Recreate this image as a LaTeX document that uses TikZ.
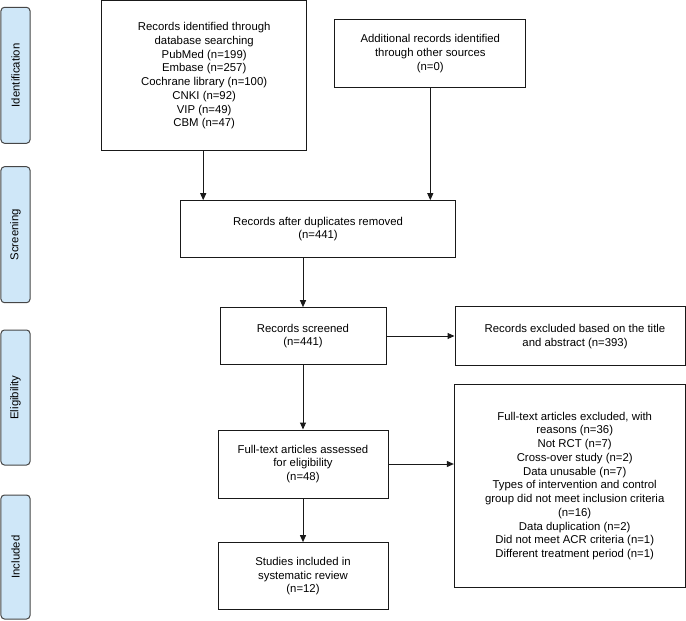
\documentclass[tikz,border=0pt]{standalone}
\usepackage{fontspec}
\setmainfont{Liberation Sans}
\usetikzlibrary{arrows.meta}
\definecolor{sidefill}{RGB}{207,231,248}
\definecolor{sidedraw}{RGB}{70,70,70}
\definecolor{linec}{RGB}{25,25,25}
\begin{document}
\begin{tikzpicture}[x=1bp,y=-1bp,
  every node/.style={font=\fontsize{11.4}{13.8}\selectfont},
  flowbox/.style={draw=linec, line width=1bp, align=center, inner sep=0pt},
  side/.style={draw=sidedraw, fill=sidefill, line width=1bp, rounded corners=3.5bp, rotate=90, inner sep=0pt, minimum height=29bp},
  flowarrow/.style={draw=linec, line width=1bp, -{Triangle[length=7bp,width=6bp]}}]
\useasboundingbox (0,0) rectangle (686,621);
% side labels
\node[side, minimum width=136bp] (sid) at (15.5,75.3) {Identification};
\node[side, minimum width=136bp] (ssc) at (15.5,234.7) {Screening};
\node[side, minimum width=135bp] (sel) at (15.5,397.5) {Eligibility};
\node[side, minimum width=124bp] (sin) at (15.5,557) {Included};
% boxes
\node[flowbox, minimum width=205bp, minimum height=150bp] (b1) at (204.2,75.8)
  {Records identified through\\database searching\\PubMed (n=199)\\Embase (n=257)\\Cochrane library (n=100)\\CNKI (n=92)\\VIP (n=49)\\CBM (n=47)};
\node[flowbox, minimum width=190.7bp, minimum height=68.2bp] (b2) at (430.3,53.4)
  {Additional records identified\\through other sources\\(n=0)};
\node[flowbox, minimum width=274.6bp, minimum height=56.6bp] (b3) at (318,229)
  {Records after duplicates removed\\(n=441)};
\node[flowbox, minimum width=166bp, minimum height=56.6bp] (b4) at (303,336)
  {Records screened\\(n=441)};
\node[flowbox, minimum width=230bp, minimum height=59bp] (b5) at (570,336.2)
  {\hspace{10bp}Records excluded based on the title\\\hspace{10bp}and abstract (n=393)};
\node[flowbox, minimum width=230.7bp, minimum height=203.4bp] (b7) at (569.7,486)
  {\hspace{10bp}Full-text articles excluded, with\\\hspace{10bp}reasons (n=36)\\\hspace{10bp}Not RCT (n=7)\\\hspace{10bp}Cross-over study (n=2)\\\hspace{10bp}Data unusable (n=7)\\\hspace{10bp}Types of intervention and control\\\hspace{10bp}group did not meet inclusion criteria\\\hspace{10bp}(n=16)\\\hspace{10bp}Data duplication (n=2)\\\hspace{10bp}Did not meet ACR criteria (n=1)\\\hspace{10bp}Different treatment period (n=1)};
\node[flowbox, minimum width=170bp, minimum height=68bp] (b6) at (303,464)
  {Full-text articles assessed\\for eligibility\\(n=48)};
\node[flowbox, minimum width=170bp, minimum height=67.3bp] (b8) at (303,576.3)
  {Studies included in\\systematic review\\(n=12)};
% arrows
\draw[flowarrow] ([xshift=-1bp]b1.south) -- ([xshift=-1bp]b1.south |- b3.north);
\draw[flowarrow] (b2.south) -- (b2.south |- b3.north);
\draw[flowarrow] (b3.south -| b4.north) -- (b4.north);
\draw[flowarrow] (b4.east) -- (b4.east -| b5.west);
\draw[flowarrow] (b4.south) -- (b4.south |- b6.north);
\draw[flowarrow] (b6.east) -- (b6.east -| b7.west);
\draw[flowarrow] (b6.south) -- (b6.south |- b8.north);
\end{tikzpicture}
\end{document}
